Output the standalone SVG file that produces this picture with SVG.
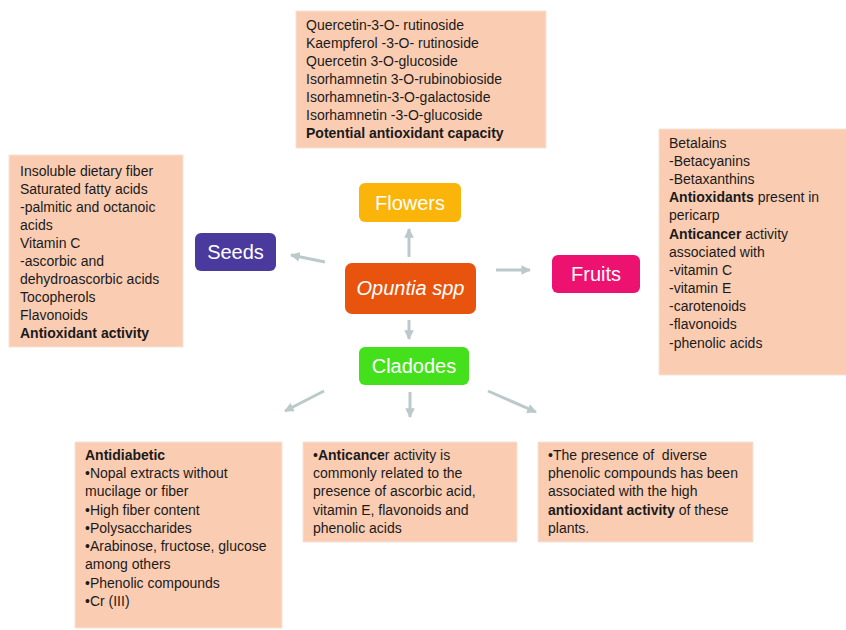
<svg xmlns="http://www.w3.org/2000/svg" width="846" height="630" viewBox="0 0 846 630">
<defs>
<marker id="ah" viewBox="0 0 10 10" refX="9" refY="5" markerWidth="3.2" markerHeight="3.2" orient="auto" markerUnits="strokeWidth">
<path d="M0,0 L10,5 L0,10 Z" fill="#BCC9CA"/>
</marker>
</defs>
<style>
.box{fill:#FACDB3;stroke:#F4E3D8;stroke-width:1}
.t{font-family:"Liberation Sans",Arial,sans-serif;font-size:14px;fill:#1a1a1a}
.b{font-weight:bold}
.node{stroke:none}
.nl{font-family:"Liberation Sans",Arial,sans-serif;font-size:20px;fill:#ffffff;text-anchor:middle}
.c{stroke:#BCC9CA;stroke-width:3;fill:none;marker-end:url(#ah)}
</style>
<rect width="846" height="630" fill="#ffffff"/>

<g id="connectors">
<line class="c" x1="409" y1="257" x2="409" y2="229"/>
<line class="c" x1="325" y1="262" x2="291" y2="255"/>
<line class="c" x1="496" y1="270" x2="530" y2="270"/>
<line class="c" x1="409" y1="320" x2="409" y2="339"/>
<line class="c" x1="324" y1="391" x2="285" y2="411"/>
<line class="c" x1="410" y1="392" x2="410" y2="417"/>
<line class="c" x1="488" y1="391" x2="536" y2="412"/>
</g>

<g id="flowers-box">
<rect class="box" x="296" y="11" width="250" height="137"/>
<text class="t" x="306" y="30">Quercetin-3-O- rutinoside</text>
<text class="t" x="306" y="48">Kaempferol -3-O- rutinoside</text>
<text class="t" x="306" y="66">Quercetin 3-O-glucoside</text>
<text class="t" x="306" y="84">Isorhamnetin 3-O-rubinobioside</text>
<text class="t" x="306" y="102">Isorhamnetin-3-O-galactoside</text>
<text class="t" x="306" y="120">Isorhamnetin -3-O-glucoside</text>
<text class="t b" x="306" y="138">Potential antioxidant capacity</text>
</g>

<g id="seeds-box">
<rect class="box" x="9" y="155" width="174" height="192"/>
<text class="t" x="20" y="176">Insoluble dietary fiber</text>
<text class="t" x="20" y="194">Saturated fatty acids</text>
<text class="t" x="20" y="212">-palmitic and octanoic</text>
<text class="t" x="20" y="230">acids</text>
<text class="t" x="20" y="248">Vitamin C</text>
<text class="t" x="20" y="266">-ascorbic and</text>
<text class="t" x="20" y="284">dehydroascorbic acids</text>
<text class="t" x="20" y="302">Tocopherols</text>
<text class="t" x="20" y="320">Flavonoids</text>
<text class="t b" x="20" y="338">Antioxidant activity</text>
</g>

<g id="fruits-box">
<rect class="box" x="659" y="129" width="188" height="246"/>
<text class="t" x="669" y="148">Betalains</text>
<text class="t" x="669" y="166">-Betacyanins</text>
<text class="t" x="669" y="184">-Betaxanthins</text>
<text class="t" x="669" y="202"><tspan class="b">Antioxidants</tspan> present in</text>
<text class="t" x="669" y="220">pericarp</text>
<text class="t" x="669" y="239"><tspan class="b">Anticancer</tspan> activity</text>
<text class="t" x="669" y="257">associated with</text>
<text class="t" x="669" y="275">-vitamin C</text>
<text class="t" x="669" y="293">-vitamin E</text>
<text class="t" x="669" y="311">-carotenoids</text>
<text class="t" x="669" y="329">-flavonoids</text>
<text class="t" x="669" y="348">-phenolic acids</text>
</g>

<g id="antidiabetic-box">
<rect class="box" x="75" y="442" width="207" height="186"/>
<text class="t b" x="85" y="460">Antidiabetic</text>
<text class="t" x="85" y="478">•Nopal extracts without</text>
<text class="t" x="85" y="496">mucilage or fiber</text>
<text class="t" x="85" y="515">•High fiber content</text>
<text class="t" x="85" y="533">•Polysaccharides</text>
<text class="t" x="85" y="551">•Arabinose, fructose, glucose</text>
<text class="t" x="85" y="569">among others</text>
<text class="t" x="85" y="588">•Phenolic compounds</text>
<text class="t" x="85" y="606">•Cr (III)</text>
</g>

<g id="anticancer-box">
<rect class="box" x="303" y="442" width="214" height="100"/>
<text class="t" x="313" y="460">•<tspan class="b">Anticance</tspan>r activity is</text>
<text class="t" x="313" y="478">commonly related to the</text>
<text class="t" x="313" y="496">presence of ascorbic acid,</text>
<text class="t" x="313" y="515">vitamin E, flavonoids and</text>
<text class="t" x="313" y="533">phenolic acids</text>
</g>

<g id="antioxidant-box">
<rect class="box" x="538" y="442" width="215" height="100"/>
<text class="t" x="548" y="460" xml:space="preserve">•The presence of  diverse</text>
<text class="t" x="548" y="478">phenolic compounds has been</text>
<text class="t" x="548" y="496">associated with the high</text>
<text class="t" x="548" y="515"><tspan class="b">antioxidant activity</tspan> of these</text>
<text class="t" x="548" y="533">plants.</text>
</g>

<g id="flowers">
<rect class="node" x="359" y="183" width="102" height="39" rx="6" fill="#FBB40A"/>
<text class="nl" x="410" y="210">Flowers</text>
</g>
<g id="seeds">
<rect class="node" x="195" y="233" width="81" height="38" rx="6" fill="#4B3A9E"/>
<text class="nl" x="235.5" y="259">Seeds</text>
</g>
<g id="opuntia">
<rect class="node" x="345" y="263" width="131" height="51" rx="7" fill="#E8540E"/>
<text class="nl" x="410.5" y="295" font-style="italic">Opuntia spp</text>
</g>
<g id="fruits">
<rect class="node" x="552" y="255" width="88" height="38" rx="6" fill="#EE1270"/>
<text class="nl" x="596" y="281">Fruits</text>
</g>
<g id="cladodes">
<rect class="node" x="359" y="347" width="110" height="38" rx="6" fill="#45E01C"/>
<text class="nl" x="414" y="373">Cladodes</text>
</g>
</svg>
